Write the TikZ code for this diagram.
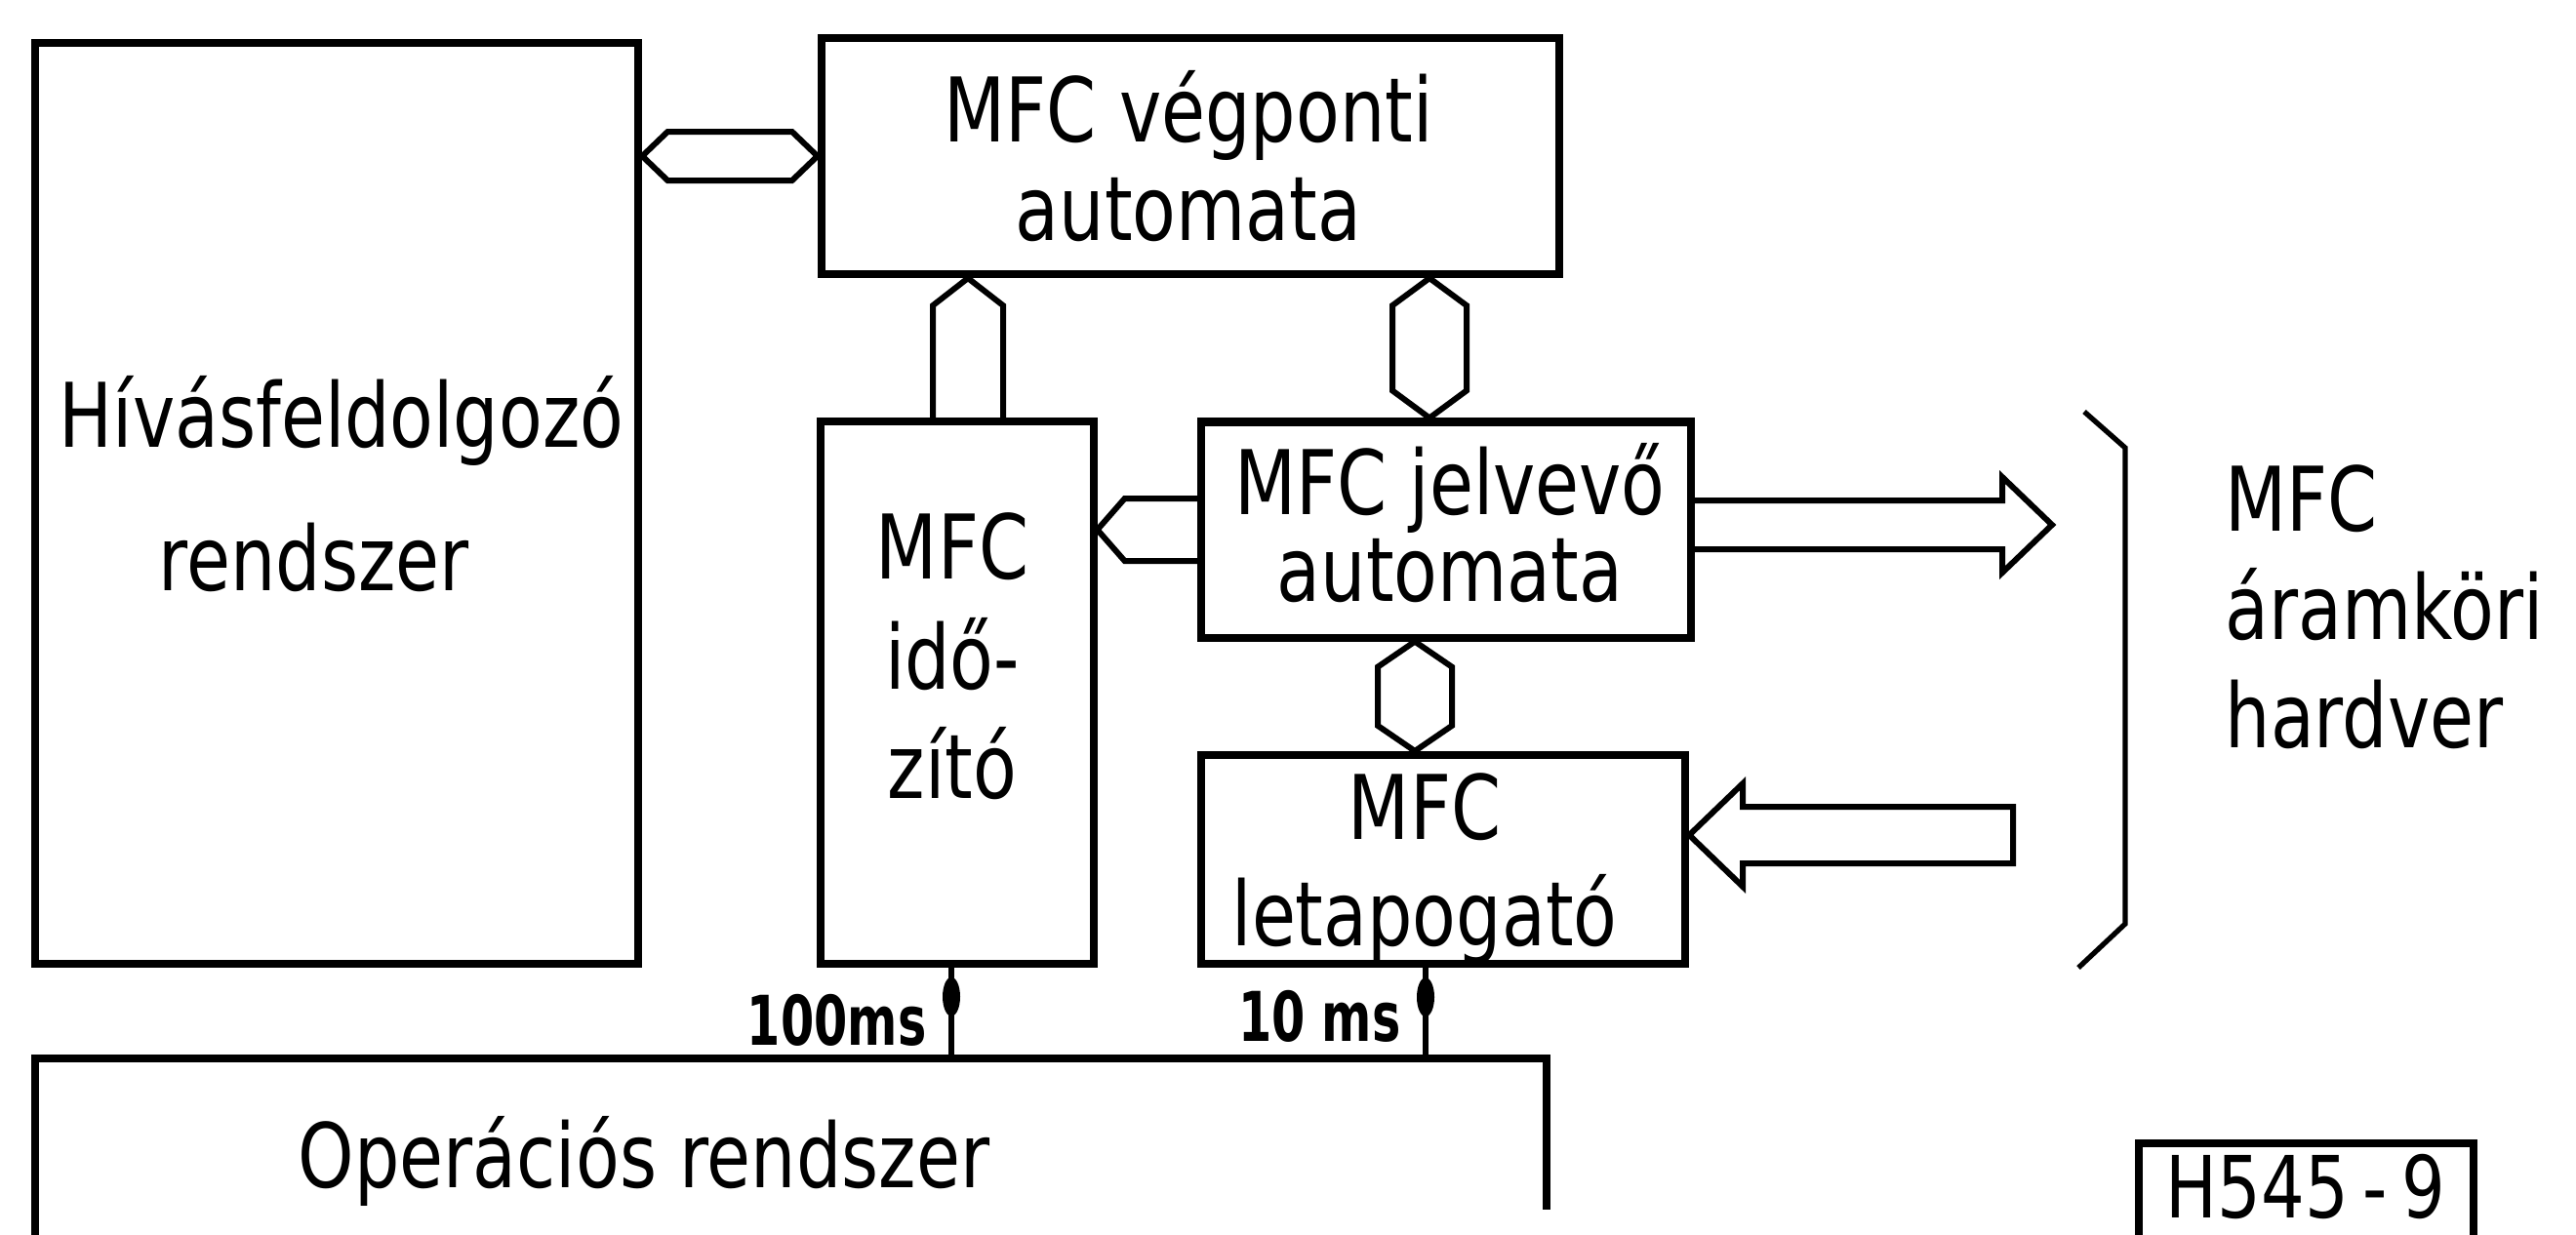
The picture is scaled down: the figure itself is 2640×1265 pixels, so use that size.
\documentclass[tikz,border=0pt]{standalone}
\usepackage{fontspec}
\setmainfont{DejaVu Sans}[FakeStretch=0.8]
\newfontfamily\waktufont{DejaVu Sans}[FakeStretch=0.7]
\usetikzlibrary{calc, positioning}
\tikzset{
    blok/.style={draw, line width=2.3pt, inner sep=0pt},
    bus/.style={draw, line width=1.7pt, line join=miter},
    teks/.style={font=\fontsize{26}{31}\selectfont, align=center, inner sep=0pt},
    waktu/.style={font=\waktufont\bfseries\fontsize{20}{22}\selectfont, inner sep=0pt},
}

\begin{document}
\begin{tikzpicture}[x=0.01cm, y=-0.01cm]
    \useasboundingbox (0,0) rectangle (2640,1265);
    % Blok utama
    \node[blok, minimum width=6.18cm, minimum height=9.43cm] (hiv) at (345,516) {};
    \node[blok, minimum width=7.56cm, minimum height=2.42cm] (veg) at (1220,160) {};
    \node[blok, minimum width=2.79cm, minimum height=5.55cm] (ido) at (981,710) {};
    \node[blok, minimum width=5.02cm, minimum height=2.21cm] (jel) at (1482,543) {};
    \node[blok, minimum width=4.96cm, minimum height=2.14cm] (let) at (1479,881) {};
    % Teks blok
    \node[teks] (hiv-t) at (350,496) {Hívásfeldolgozó\\[11pt]\hspace*{-16pt}rendszer};
    \node[teks] (veg-t) at (1218,160) {MFC végponti\\[-2.5pt]automata};
    \node[teks] (ido-t) at (976,673) {MFC\\[1pt]idő-\\[1pt]zító};
    \node[teks] (jel-t) at (1486,536) {MFC jelvevő\\[-5.7pt]automata};
    \node[teks] (let-t) at (1460,891) {MFC\\letapogató};
    % Bus antar blok
    \coordinate (hv1) at (hiv.east |- veg.west);
    \draw[bus] (hv1) -- ++(26,-25) -- ($(veg.west)+(-26,-25)$) -- (veg.west)
        -- ++(-26,25) -- ($(hv1)+(26,25)$) -- cycle;
    \coordinate (vi1) at ($(ido.north)+(11,0)$);
    \coordinate (vi2) at (veg.south -| vi1);
    \draw[bus] ($(vi1)+(-36,0)$) -- ($(vi2)+(-36,28)$) -- (vi2) -- ($(vi2)+(36,28)$) -- ($(vi1)+(36,0)$);
    \coordinate (vj1) at ($(jel.north)+(-17,0)$);
    \coordinate (vj2) at (veg.south -| vj1);
    \draw[bus] (vj2) -- ++(38,28) -- ($(vj1)+(38,-28)$) -- (vj1)
        -- ++(-38,-28) -- ($(vj2)+(-38,28)$) -- cycle;
    \coordinate (ji1) at (ido.east |- jel.west);
    \draw[bus] ($(jel.west)+(0,-32)$) -- ($(ji1)+(28,-32)$) -- (ji1) -- ($(ji1)+(28,32)$) -- ($(jel.west)+(0,32)$);
    \coordinate (jl1) at ($(jel.south)+(-32,0)$);
    \coordinate (jl2) at (let.north -| jl1);
    \draw[bus] (jl1) -- ++(38,26) -- ($(jl2)+(38,-26)$) -- (jl2)
        -- ++(-38,-26) -- ($(jl1)+(-38,26)$) -- cycle;
    % Bus ke/dari perangkat keras
    \coordinate (hwout) at (2103,538);
    \draw[bus] ($(jel.east |- hwout)+(0,-25)$) -- ($(hwout)+(-51,-25)$) -- ($(hwout)+(-51,-49)$)
        -- (hwout) -- ($(hwout)+(-51,49)$) -- ($(hwout)+(-51,25)$) -- ($(jel.east |- hwout)+(0,25)$);
    \coordinate (hwin) at (2063,856);
    \draw[bus] (let.east |- hwin) -- ++(55,-53) -- ++(0,24) -- ($(hwin)+(0,-29)$) -- ($(hwin)+(0,29)$)
        -- ($(let.east |- hwin)+(55,29)$) -- ++(0,24) -- cycle;
    \draw[line width=1.5pt] (2136,422) -- (2178,459) -- (2178,947) -- (2130,992);
    \node[teks, align=left, anchor=west] (hw-t) at (2280,622) {MFC\\[0.6pt]áramköri\\[0.6pt]hardver};
    % Sistem operasi dan sinyal waktu
    \coordinate (ostl) at (36,1085);
    \draw[blok] (36,1280) -- (ostl) -| (1585,1240);
    \node[teks, anchor=base] (os-t) at (660,1217) {Operációs rendszer};
    \coordinate (t100) at ($(ido.south)+(-6,0)$);
    \coordinate (t10) at ($(let.south)+(-18,0)$);
    \foreach \t in {t100, t10} {
        \draw[bus] (\t) -- (\t |- ostl);
        \fill ($(\t)+(0,30)$) ellipse [x radius=0.09cm, y radius=0.2cm];
    }
    \node[waktu, anchor=base east] (t100-t) at (950,1071) {100ms};
    \node[waktu, anchor=base east] (t10-t) at (1436,1067) {10 ms};
    % Kode gambar
    \draw[blok] (2192,1280) |- (2535,1172) -- (2535,1280);
    \node[teks, font=\fontsize{25}{30}\selectfont, anchor=base] (kode) at (2363,1248) {H545\,-\,9};
\end{tikzpicture}
\end{document}
